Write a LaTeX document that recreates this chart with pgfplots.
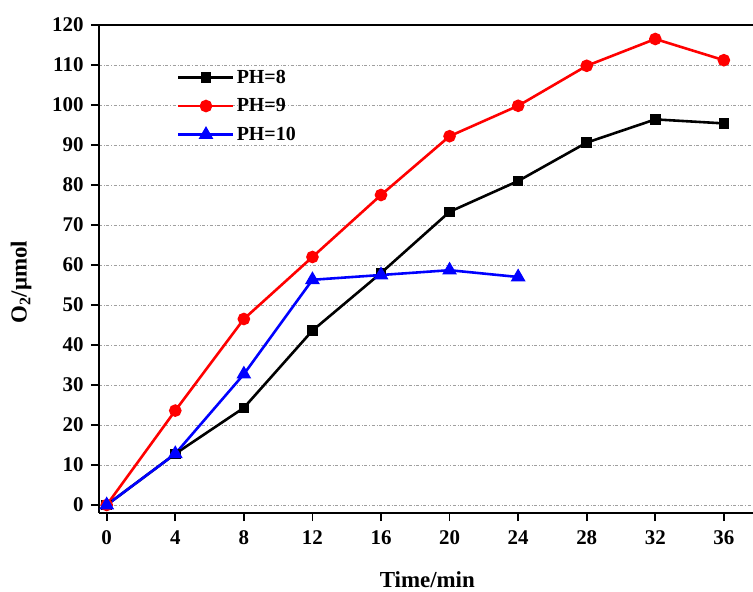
\documentclass[border=0pt]{standalone}
\usepackage{fontspec}
\setmainfont{Liberation Serif}
\usepackage{pgfplots}
\pgfplotsset{compat=1.18}
\begin{document}
\begin{tikzpicture}
\begin{axis}[scale only axis,width=654bp,height=488bp,
  xmin=-0.45,xmax=37.7,ymin=-2,ymax=120,
  xtick={0,4,...,36},ytick={0,10,...,120},
  axis x line*=box,axis y line*=left,
  tick pos=left,tick align=outside,
  major tick length=8bp,
  every tick/.style={black,line width=1.8pt},
  axis line style={black,line width=2.2pt},
  /pgf/number format/assume math mode=true,
  tick label style={font=\fontsize{21}{25}\selectfont\bfseries},
  xticklabel style={yshift=-6bp},
  yticklabel style={xshift=-4bp},
  xlabel={Time/min},ylabel={O\textsubscript{2}/μmol},
  every axis x label/.append style={at={(axis description cs:0.502,-0.137)},anchor=center,
    font=\fontsize{23}{27}\selectfont\bfseries},
  every axis y label/.append style={at={(axis description cs:-0.119,0.473)},anchor=center,
    font=\fontsize{23}{27}\selectfont\bfseries},
  ymajorgrids,
  major grid style={gray!75,dash dot,line width=0.7pt},
  legend cell align=left,
  legend style={draw=none,fill=none,at={(axis cs:4.1,109.3)},anchor=north west,
    font=\fontsize{20}{24}\selectfont\bfseries,row sep=10pt,inner sep=0pt},
  legend image code/.code={\draw[#1,mark=none] (0bp,0bp) -- (55bp,0bp);
    \draw[#1,only marks] plot coordinates {(27.5bp,0bp)};},
  every axis plot/.append style={line width=2.6pt}]

\addplot[black,mark=square*,mark size=4pt] coordinates {
  (0,0)(4,12.8)(8,24.3)(12,43.6)(16,58)(20,73.3)(24,81)(28,90.6)(32,96.4)(36,95.4)};
\addplot[red,mark=*,mark size=5pt] coordinates {
  (0,0)(4,23.6)(8,46.5)(12,62)(16,77.5)(20,92.2)(24,99.8)(28,109.8)(32,116.5)(36,111.2)};
\addplot[blue,mark=triangle*,mark size=6pt] coordinates {
  (0,0)(4,12.8)(8,32.7)(12,56.3)(16,57.5)(20,58.7)(24,57)};

\legend{PH=8,PH=9,PH=10}
\end{axis}
\pgfresetboundingbox
\useasboundingbox ([shift={(-99bp,-79bp)}]current axis.south west) rectangle ([yshift=25bp]current axis.north east);
\end{tikzpicture}
\end{document}
